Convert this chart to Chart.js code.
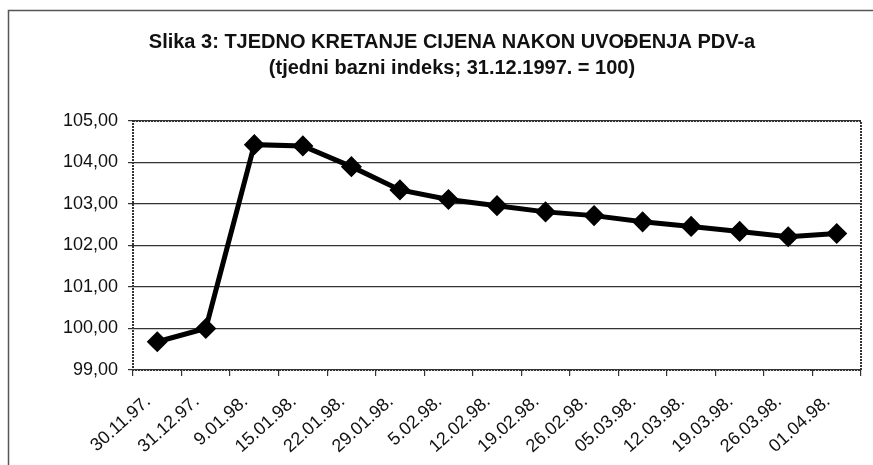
<!DOCTYPE html>
<html>
<head>
<meta charset="utf-8">
<script src="https://cdn.jsdelivr.net/npm/chart.js@4/dist/chart.umd.min.js"></script>
<style>
  html, body { margin: 0; padding: 0; background: #fff; }
  #wrap { width: 873px; height: 465px; position: relative; }
</style>
</head>
<body>
<div id="wrap"><canvas id="c" width="873" height="465"></canvas></div>
<script>
const categories = ["30.11.97.", "31.12.97.", "9.01.98.", "15.01.98.", "22.01.98.", "29.01.98.", "5.02.98.", "12.02.98.", "19.02.98.", "26.02.98.", "05.03.98.", "12.03.98.", "19.03.98.", "26.03.98.", "01.04.98."];
const indexValues = [99.68, 100.00, 104.43, 104.40, 103.90, 103.34, 103.11, 102.96, 102.81, 102.72, 102.57, 102.46, 102.34, 102.21, 102.29];
const titleLines = ["Slika 3: TJEDNO KRETANJE CIJENA NAKON UVOĐENJA PDV-a", "(tjedni bazni indeks; 31.12.1997. = 100)"];
const yMin = 99, yMax = 105, yStep = 1;

const FONT = 'Liberation Sans, Arial, sans-serif';

const framePlugin = {
  id: 'frame',
  beforeDraw(chart) {
    const ctx = chart.ctx;
    ctx.save();
    ctx.strokeStyle = '#555';
    ctx.lineWidth = 1.5;
    ctx.beginPath();
    ctx.moveTo(8.5, 465);
    ctx.lineTo(8.5, 10.5);
    ctx.lineTo(873, 10.5);
    ctx.stroke();
    ctx.restore();
  },
  beforeDatasetsDraw(chart) {
    const a = chart.chartArea, ctx = chart.ctx;
    ctx.save();
    ctx.strokeStyle = '#333';
    ctx.lineWidth = 2;
    ctx.setLineDash([2, 1]);
    ctx.strokeRect(a.left, a.top, a.right - a.left, a.bottom - a.top);
    ctx.restore();
  },
  afterDraw(chart) {
    const ctx = chart.ctx;
    ctx.save();
    ctx.fillStyle = '#111';
    ctx.font = 'bold 20px ' + FONT;
    ctx.textAlign = 'center';
    ctx.textBaseline = 'middle';
    ctx.fillText(titleLines[0], 452, 42);
    ctx.fillText(titleLines[1], 452, 68);
    ctx.restore();
  }
};

new Chart(document.getElementById('c'), {
  type: 'line',
  data: {
    labels: categories,
    datasets: [{
      data: indexValues,
      borderColor: '#000',
      backgroundColor: '#000',
      borderWidth: 5,
      pointStyle: 'rectRot',
      pointRadius: 7,
      pointBackgroundColor: '#000',
      pointBorderColor: '#000',
      tension: 0
    }]
  },
  options: {
    responsive: false,
    animation: false,
    layout: { padding: { left: 0, top: 121, right: 11, bottom: 0 } },
    plugins: {
      legend: { display: false },
      tooltip: { enabled: false },
      title: { display: false }
    },
    scales: {
      x: {
        offset: true,
        afterFit(s) { s.height = 95; },
        grid: { display: true, drawOnChartArea: false, drawTicks: true, offset: true, tickLength: 6, color: '#333', lineWidth: 1.2 },
        border: { display: false },
        ticks: {
          color: '#111',
          maxRotation: 42, minRotation: 42,
          autoSkip: false,
          padding: 15,
          labelOffset: -9,
          font: { family: FONT, size: 18 }
        }
      },
      y: {
        min: yMin, max: yMax,
        afterFit(s) { s.width = 133; },
        grid: { color: '#333', lineWidth: 1.2, tickLength: 5, drawTicks: true },
        border: { display: false },
        ticks: {
          stepSize: yStep,
          color: '#111',
          padding: 10,
          font: { family: FONT, size: 18 },
          callback: v => v.toFixed(2).replace('.', ',')
        }
      }
    }
  },
  plugins: [framePlugin]
});
</script>
</body>
</html>
